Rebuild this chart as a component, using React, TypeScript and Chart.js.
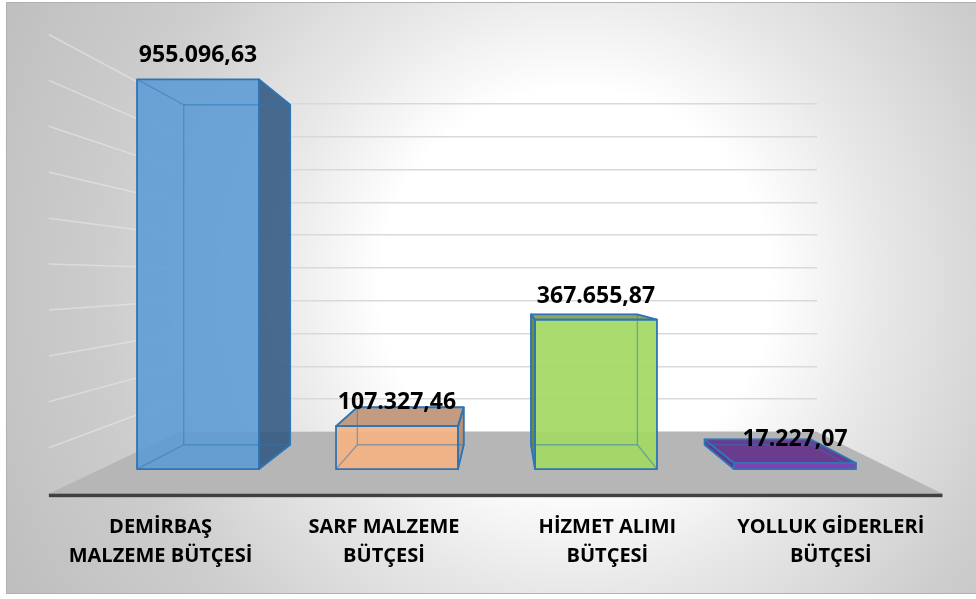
import React, { useEffect, useRef } from 'react';
import { Chart, registerables } from 'chart.js';

Chart.register(...registerables);

// ---- data ----
const categories: string[][] = [
  ['DEMİRBAŞ', 'MALZEME BÜTÇESİ'],
  ['SARF MALZEME', 'BÜTÇESİ'],
  ['HİZMET ALIMI', 'BÜTÇESİ'],
  ['YOLLUK GİDERLERİ', 'BÜTÇESİ'],
];
const values: number[] = [955096.63, 107327.46, 367655.87, 17227.07];
const axisMax = 1000000;
const axisStep = 100000;

const frontColors = ['rgba(91,155,213,0.88)', 'rgba(244,177,131,0.93)', 'rgba(163,216,99,0.93)', 'rgba(122,60,176,0.95)'];
const sideColors = ['rgba(50,88,130,0.88)', 'rgba(185,140,110,0.95)', 'rgba(105,135,55,0.95)', 'rgba(95,45,140,0.95)'];
const topColors = ['rgba(70,120,170,0.9)', 'rgba(192,150,122,0.95)', 'rgba(138,162,82,0.95)', 'rgba(104,56,140,0.97)'];

// ---- layout / projection ----
const W = 976;
const H = 599;
const VP = { x: 503.3, y: 277.8 };
const S_BAR_BACK = 1.088;
const S_BAR_FRONT = 1.247;
const S_FLOOR_FRONT = 1.4;

const proj = (x: number, y: number, s: number) => ({ x: VP.x + s * (x - VP.x), y: VP.y + s * (y - VP.y) });

const fmtTR = (v: number) => {
  const [i, d] = v.toFixed(2).split('.');
  return i.replace(/\B(?=(\d{3})+(?!\d))/g, '.') + ',' + d;
};

type P = { x: number; y: number };
const poly = (ctx: CanvasRenderingContext2D, pts: P[]) => {
  ctx.beginPath();
  ctx.moveTo(pts[0].x, pts[0].y);
  for (let k = 1; k < pts.length; k++) ctx.lineTo(pts[k].x, pts[k].y);
  ctx.closePath();
};

const scenePlugin = {
  id: 'scene3d',
  beforeDraw(chart: any) {
    const ctx: CanvasRenderingContext2D = chart.ctx;
    ctx.save();
    ctx.fillStyle = '#ffffff';
    ctx.fillRect(0, 0, W, H);
    const g = ctx.createRadialGradient(575, 285, 0, 575, 285, 650);
    g.addColorStop(0, '#ffffff');
    g.addColorStop(0.3, '#ffffff');
    g.addColorStop(0.47, '#e8e8e8');
    g.addColorStop(0.72, '#cdcdcd');
    g.addColorStop(1, '#bebebe');
    ctx.fillStyle = g;
    ctx.fillRect(6, 3, W - 6, 591);
    ctx.strokeStyle = '#b0b0b0';
    ctx.lineWidth = 1;
    ctx.strokeRect(6.5, 2.5, W, 591);
    ctx.restore();
  },
  beforeDatasetsDraw(chart: any) {
    const ctx: CanvasRenderingContext2D = chart.ctx;
    const { left, right, bottom } = chart.chartArea;
    const yScale = chart.scales.y;
    ctx.save();
    // side wall gridlines
    ctx.strokeStyle = 'rgba(232,232,232,0.6)';
    ctx.lineWidth = 1.5;
    for (let v = axisStep; v <= axisMax; v += axisStep) {
      const yb = yScale.getPixelForValue(v);
      const a = proj(left, yb, 1);
      const b = proj(left, yb, S_FLOOR_FRONT);
      ctx.beginPath();
      ctx.moveTo(a.x, a.y);
      ctx.lineTo(b.x, b.y);
      ctx.stroke();
    }
    // floor
    const fl = proj(left, bottom, S_FLOOR_FRONT);
    const fr = proj(right, bottom, S_FLOOR_FRONT);
    poly(ctx, [{ x: left, y: bottom }, { x: right, y: bottom }, fr, fl]);
    ctx.fillStyle = '#b6b6b6';
    ctx.fill();
    ctx.fillStyle = '#404040';
    ctx.fillRect(fl.x, fl.y, fr.x - fl.x, 3.5);
    ctx.restore();
  },
  afterDatasetsDraw(chart: any) {
    const ctx: CanvasRenderingContext2D = chart.ctx;
    const meta = chart.getDatasetMeta(0);
    const { bottom } = chart.chartArea;
    ctx.save();
    meta.data.forEach((el: any, i: number) => {
      const x0 = el.x - el.width / 2;
      const x1 = el.x + el.width / 2;
      const yT = el.y;
      const yB = el.base;
      const FTL = proj(x0, yT, S_BAR_FRONT), FTR = proj(x1, yT, S_BAR_FRONT);
      const FBL = proj(x0, yB, S_BAR_FRONT), FBR = proj(x1, yB, S_BAR_FRONT);
      const BTL = proj(x0, yT, S_BAR_BACK), BTR = proj(x1, yT, S_BAR_BACK);
      const BBL = proj(x0, yB, S_BAR_BACK), BBR = proj(x1, yB, S_BAR_BACK);
      const front = [FTL, FTR, FBR, FBL];
      const rightF = [FTR, BTR, BBR, FBR];
      const leftF = [FTL, BTL, BBL, FBL];
      const topF = [FTL, FTR, BTR, BTL];
      const visible: P[][] = [];
      if (x1 < VP.x) {
        poly(ctx, rightF); ctx.fillStyle = sideColors[i]; ctx.fill(); visible.push(rightF);
      }
      if (x0 > VP.x) {
        poly(ctx, leftF); ctx.fillStyle = sideColors[i]; ctx.fill(); visible.push(leftF);
      }
      if (yT > VP.y) {
        poly(ctx, topF); ctx.fillStyle = topColors[i]; ctx.fill(); visible.push(topF);
      }
      poly(ctx, front); ctx.fillStyle = frontColors[i]; ctx.fill(); visible.push(front);
      const edges: [P, P][] = [
        [BTL, BTR], [BTR, BBR], [BBR, BBL], [BBL, BTL],
        [FTL, BTL], [FTR, BTR], [FBL, BBL], [FBR, BBR],
      ];
      ctx.strokeStyle = 'rgba(46,117,182,0.5)';
      ctx.lineWidth = 1.3;
      edges.forEach(([a, b]) => { ctx.beginPath(); ctx.moveTo(a.x, a.y); ctx.lineTo(b.x, b.y); ctx.stroke(); });
      ctx.strokeStyle = '#2e75b6';
      ctx.lineWidth = 1.8;
      ctx.lineJoin = 'round';
      visible.forEach((f) => { poly(ctx, f); ctx.stroke(); });
    });
    // value labels
    ctx.fillStyle = '#000000';
    ctx.textAlign = 'center';
    ctx.textBaseline = 'alphabetic';
    ctx.font = 'bold 23px "Open Sans", "DejaVu Sans", sans-serif';
    meta.data.forEach((el: any, i: number) => {
      const p = proj(el.x, el.y, S_BAR_FRONT);
      ctx.fillText(fmtTR(values[i]), p.x, p.y - 17);
    });
    // category labels on the front edge of the floor
    ctx.font = 'bold 20px "Open Sans", "DejaVu Sans", sans-serif';
    const lines = [533, 562];
    meta.data.forEach((el: any, i: number) => {
      const p = proj(el.x, bottom, S_FLOOR_FRONT);
      categories[i].forEach((t, k) => ctx.fillText(t, p.x, lines[k]));
    });
    ctx.restore();
  },
};

export default function App() {
  const ref = useRef<HTMLCanvasElement | null>(null);
  useEffect(() => {
    if (!ref.current) return;
    const chart = new Chart(ref.current, {
      type: 'bar',
      data: {
        labels: categories,
        datasets: [
          {
            data: values,
            backgroundColor: 'rgba(0,0,0,0)',
            borderWidth: 0,
            barPercentage: 0.613,
            categoryPercentage: 1,
          },
        ],
      },
      options: {
        animation: false,
        responsive: false,
        devicePixelRatio: 1,
        layout: { padding: { left: 178.7, right: W - 817, top: 104, bottom: H - 432 } },
        plugins: { legend: { display: false }, tooltip: { enabled: false } },
        scales: {
          x: { display: false },
          y: {
            display: true,
            min: 0,
            max: axisMax,
            ticks: { display: false, stepSize: axisStep },
            grid: { color: '#d9d9d9', lineWidth: 1.5, drawTicks: false },
            border: { display: false },
          },
        },
      },
      plugins: [scenePlugin],
    });
    return () => chart.destroy();
  }, []);
  return (
    <div style={{ position: 'fixed', left: 0, top: 0, width: W, height: H }}>
      <canvas ref={ref} width={W} height={H} style={{ width: W, height: H, display: 'block' }} />
    </div>
  );
}
